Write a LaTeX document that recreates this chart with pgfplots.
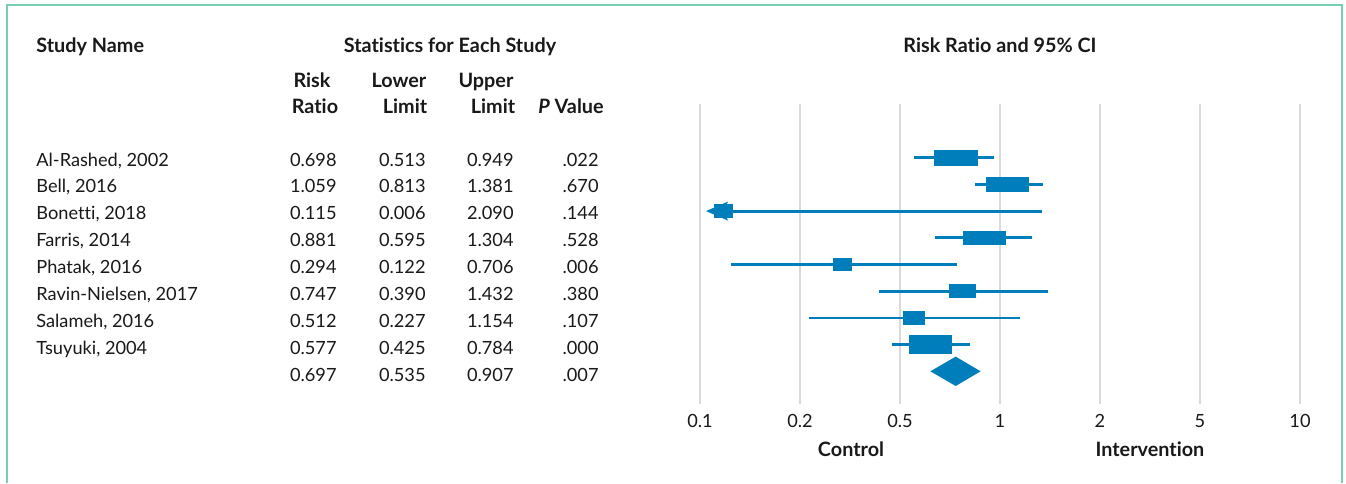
\documentclass[border=0pt]{standalone}
\usepackage{fontspec}
\setmainfont{Lato}[Ligatures=NoCommon]
\usepackage{pgfplots}
\pgfplotsset{compat=1.18}
\definecolor{fb}{RGB}{0,125,187}
\definecolor{gridc}{RGB}{218,218,218}
\definecolor{framec}{RGB}{115,208,178}
\definecolor{txt}{RGB}{25,25,25}
\newcommand\fz{\fontsize{9.1}{11}\selectfont}
\newcommand\fb{\fontsize{9.9}{12}\selectfont\bfseries}
\newcommand\row[6]{%
  \pgfmathsetmacro\yy{161+(#1-1)*26.875}
  \node[anchor=mid west] at (36,\yy) {#2};
  \node[anchor=mid east] at (337,\yy) {#3};
  \node[anchor=mid east] at (426,\yy) {#4};
  \node[anchor=mid east] at (514,\yy) {#5};
  \node[anchor=mid east] at (599,\yy) {#6};
}
\begin{document}
\begin{tikzpicture}
\path[use as bounding box] (0,0) rectangle (673pt,-241.5pt);
\draw[framec, line width=1pt] (3.65pt,-241.5pt) -- (3.65pt,-2.65pt) -- (670.85pt,-2.65pt) -- (670.85pt,-241.5pt);
\begin{scope}[x=0.5pt,y=-0.5pt, every node/.style={inner sep=0pt, font=\fz, text=txt}]
\node[anchor=mid west, font=\fb] at (36,47) {Study Name};
\node[anchor=mid, font=\fb] at (450,47) {Statistics for Each Study};
\node[anchor=mid, font=\fb] at (1000,47) {Risk Ratio and 95\% CI};
\node[anchor=mid, font=\fb] at (312,82) {Risk};
\node[anchor=mid, font=\fb] at (315,108) {Ratio};
\node[anchor=mid, font=\fb] at (399,82) {Lower};
\node[anchor=mid, font=\fb] at (405,108) {Limit};
\node[anchor=mid, font=\fb] at (486,82) {Upper};
\node[anchor=mid, font=\fb] at (493,108) {Limit};
\node[anchor=mid, font=\fb] at (571,108) {\textit{P} Value};
\row{1}{Al-Rashed, 2002}{0.698}{0.513}{0.949}{.022}
\row{2}{Bell, 2016}{1.059}{0.813}{1.381}{.670}
\row{3}{Bonetti, 2018}{0.115}{0.006}{2.090}{.144}
\row{4}{Farris, 2014}{0.881}{0.595}{1.304}{.528}
\row{5}{Phatak, 2016}{0.294}{0.122}{0.706}{.006}
\row{6}{Ravin-Nielsen, 2017}{0.747}{0.390}{1.432}{.380}
\row{7}{Salameh, 2016}{0.512}{0.227}{1.154}{.107}
\row{8}{Tsuyuki, 2004}{0.577}{0.425}{0.784}{.000}
\row{9}{}{0.697}{0.535}{0.907}{.007}
\node[anchor=mid, font=\fb] at (851,451) {Control};
\node[anchor=mid, font=\fb] at (1150,451) {Intervention};
\end{scope}
\begin{axis}[
  at={(350pt,-52pt)}, anchor=north west,
  scale only axis, width=300pt, height=150pt,
  xmin=0, xmax=6, ymin=-1.011, ymax=10.225, y dir=reverse,
  axis line style={draw=none},
  major tick length=0pt,
  xtick={0,1,2,3,4,5,6},
  xticklabels={0.1,0.2,0.5,1,2,5,10},
  ytick=\empty,
  xmajorgrids,
  major grid style={gridc, line width=0.8pt},
  xticklabel style={font=\fz, text=txt, yshift=-1.5pt},
  clip=false,
]
% Al-Rashed
\addplot[fb, line width=1.4pt] coordinates {(2.14,1) (2.94,1)};
\addplot[fill=fb, draw=none] coordinates {(2.34,0.706) (2.776,0.706) (2.776,1.294) (2.34,1.294)} -- cycle;
% Bell
\addplot[fb, line width=1.4pt] coordinates {(2.75,2) (3.43,2)};
\addplot[fill=fb, draw=none] coordinates {(2.856,1.706) (3.286,1.706) (3.286,2.294) (2.856,2.294)} -- cycle;
% Bonetti
\addplot[fb, line width=1.4pt] coordinates {(0.2,3) (3.42,3)};
\addplot[fill=fb, draw=none] coordinates {(0.14,2.73) (0.33,2.73) (0.33,3.27) (0.14,3.27)} -- cycle;
\addplot[fill=fb, draw=none] coordinates {(0.06,3) (0.28,2.645) (0.24,3) (0.28,3.355)} -- cycle;
% Farris
\addplot[fb, line width=1.4pt] coordinates {(2.346,4) (3.32,4)};
\addplot[fill=fb, draw=none] coordinates {(2.633,3.738) (3.059,3.738) (3.059,4.262) (2.633,4.262)} -- cycle;
% Phatak
\addplot[fb, line width=1.4pt] coordinates {(0.31,5) (2.566,5)};
\addplot[fill=fb, draw=none] coordinates {(1.33,4.743) (1.524,4.743) (1.524,5.257) (1.33,5.257)} -- cycle;
% Ravin-Nielsen
\addplot[fb, line width=1.4pt] coordinates {(1.786,6) (3.48,6)};
\addplot[fill=fb, draw=none] coordinates {(2.494,5.743) (2.764,5.743) (2.764,6.257) (2.494,6.257)} -- cycle;
% Salameh
\addplot[fb, line width=1.4pt] coordinates {(1.086,7) (3.202,7)};
\addplot[fill=fb, draw=none] coordinates {(2.034,6.743) (2.254,6.743) (2.254,7.257) (2.034,7.257)} -- cycle;
% Tsuyuki
\addplot[fb, line width=1.4pt] coordinates {(1.916,8) (2.696,8)};
\addplot[fill=fb, draw=none] coordinates {(2.093,7.65) (2.523,7.65) (2.523,8.35) (2.093,8.35)} -- cycle;
% Summary diamond
\addplot[fill=fb, draw=none] coordinates {(2.304,9) (2.557,8.45) (2.806,9) (2.557,9.55)} -- cycle;
\end{axis}
\end{tikzpicture}
\end{document}
